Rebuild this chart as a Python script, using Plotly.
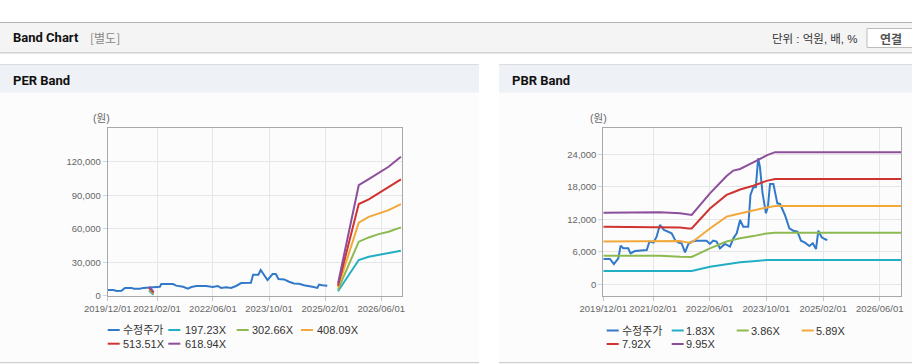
import plotly.graph_objects as go

W, H = 912, 364

# ---------------- data ----------------
tick_dates = ["2019-12-01", "2021-02-01", "2022-06-01", "2023-10-01", "2025-02-01", "2026-06-01"]
tick_text = ["2019/12/01", "2021/02/01", "2022/06/01", "2023/10/01", "2025/02/01", "2026/06/01"]

# PER band chart
per_price_dates = ["2019-12-01", "2020-01-19", "2020-02-17", "2020-03-30", "2020-04-28", "2020-06-25",
                   "2020-07-15", "2020-09-06", "2020-10-04", "2021-01-14", "2021-02-26", "2021-03-10",
                   "2021-06-20", "2021-07-18", "2021-09-15", "2021-10-27", "2021-11-26", "2022-01-08",
                   "2022-04-03", "2022-05-31", "2022-07-13", "2022-08-11", "2022-09-24", "2022-11-06",
                   "2022-12-19", "2023-02-01", "2023-04-27", "2023-05-16", "2023-07-01", "2023-07-21",
                   "2023-08-11", "2023-09-18", "2023-11-01", "2023-11-29", "2023-12-22", "2024-02-10",
                   "2024-03-23", "2024-05-05", "2024-06-18", "2024-07-31", "2024-10-11", "2024-11-24",
                   "2024-12-08", "2025-01-06", "2025-02-18"]
per_price = [5000, 5000, 4200, 4500, 7000, 7000, 6300, 6300, 7000, 7500, 8000, 10400,
             10400, 9000, 8000, 6300, 7800, 8700, 8700, 7800, 8700, 7000, 7500, 6900,
             8700, 11300, 11600, 18800, 18800, 23000, 20000, 14000, 19400, 19400, 14900, 14600,
             12500, 11000, 10700, 9300, 8000, 7000, 10000, 9300, 9000]

per_band_dates = ["2020-11-25", "2021-01-02", "2023-01-01", "2025-05-22", "2025-11-18",
                  "2026-02-13", "2026-05-09", "2026-08-04", "2026-11-19"]
per_band_1 = [4500, 900, None, 4000, 32000, 34900, 36400, 37900, 40300]      # 197.23X
per_band_2 = [5500, 1500, None, 5500, 48400, 52200, 55200, 57300, 61200]     # 302.66X
per_band_3 = [6500, 2200, None, 7500, 65400, 70700, 73700, 76700, 82100]     # 408.09X
per_band_4 = [7300, 2800, None, 9000, 82100, 86300, 91600, 97000, 104200]    # 513.51X
per_band_5 = [8000, 3500, None, 11000, 99000, 104500, 110000, 115500, 124500]  # 618.94X
per_names = ["수정주가", "197.23X", "302.66X", "408.09X", "513.51X", "618.94X"]

# PBR band chart
pbr_price_dates = ["2019-12-01", "2020-01-27", "2020-03-01", "2020-04-08", "2020-04-28", "2020-05-20",
                   "2020-07-02", "2020-07-22", "2020-08-29", "2020-10-26", "2020-12-08", "2020-12-31",
                   "2021-02-04", "2021-03-03", "2021-03-31", "2021-05-05", "2021-06-11", "2021-07-10",
                   "2021-08-08", "2021-09-06", "2021-10-04", "2021-11-02", "2021-12-01", "2021-12-29",
                   "2022-02-11", "2022-05-06", "2022-06-04", "2022-07-02", "2022-07-31", "2022-08-29",
                   "2022-10-11", "2022-11-23", "2022-12-22", "2023-01-20", "2023-02-18", "2023-03-17",
                   "2023-04-29", "2023-05-18", "2023-06-11", "2023-07-03", "2023-07-23", "2023-08-07",
                   "2023-08-30", "2023-09-28", "2023-10-15", "2023-11-02", "2023-12-01", "2024-01-04",
                   "2024-01-27", "2024-03-09", "2024-04-16", "2024-05-20", "2024-06-24", "2024-07-25",
                   "2024-08-28", "2024-10-05", "2024-11-03", "2024-12-01", "2024-12-21", "2025-01-19",
                   "2025-02-17", "2025-03-08"]
pbr_price = [4680, 4680, 3750, 4800, 7140, 6650, 6650, 5720, 6150, 6220, 6340, 7880,
             7690, 8800, 10950, 10030, 9600, 9420, 8190, 7690, 7570, 5910, 7450, 7880,
             8060, 8060, 7450, 8060, 7880, 6650, 7450, 6950, 8490, 9420, 11880, 10650,
             10650, 16490, 17900, 17900, 23260, 21720, 16800, 13110, 14340, 18520, 18520, 14950,
             14830, 12800, 10340, 9900, 9720, 8060, 7690, 7080, 7570, 6520, 9910, 8680,
             8310, 8180]

pbr_band_dates = ["2019-12-01", "2021-03-31", "2021-09-20", "2021-12-01", "2021-12-29", "2022-06-04",
                  "2022-10-25", "2022-12-22", "2023-02-18", "2023-06-11", "2023-10-04", "2023-12-15",
                  "2026-12-01"]
pbr_band_1 = [2460, 2460, 2460, 2460, 2460, 3260, 3750, 3900, 4060, 4250, 4490, 4490, 4490]          # 1.83X
pbr_band_2 = [5290, 5290, 5100, 5050, 5050, 6650, 7900, 8200, 8500, 8900, 9400, 9540, 9540]          # 3.86X
pbr_band_3 = [7900, 8000, 8000, 7700, 7700, 10300, 12500, 12800, 13100, 13700, 14200, 14460, 14460]  # 5.89X
pbr_band_4 = [10650, 10600, 10500, 10300, 10300, 14000, 16500, 17000, 17500, 18200, 19100, 19450, 19450]  # 7.92X
pbr_band_5 = [13200, 13300, 13100, 12900, 12800, 16800, 20000, 21000, 21300, 22500, 23800, 24400, 24400]  # 9.95X
pbr_names = ["수정주가", "1.83X", "3.86X", "5.89X", "7.92X", "9.95X"]

colors = ["#3279c9", "#22afc3", "#8cba51", "#f2a83b", "#cf3430", "#8d4f9c"]

# ---------------- figure ----------------
fig = go.Figure()

def add_series(xp, yp, xb, bands, xa, ya):
    fig.add_trace(go.Scatter(x=xp, y=yp, mode="lines", line=dict(color=colors[0], width=2),
                             xaxis=xa, yaxis=ya, showlegend=False, connectgaps=False))
    for i, b in enumerate(bands):
        fig.add_trace(go.Scatter(x=xb, y=b, mode="lines", line=dict(color=colors[i + 1], width=2),
                                 xaxis=xa, yaxis=ya, showlegend=False, connectgaps=False))

add_series(per_price_dates, per_price, per_band_dates,
           [per_band_1, per_band_2, per_band_3, per_band_4, per_band_5], "x", "y")
add_series(pbr_price_dates, pbr_price, pbr_band_dates,
           [pbr_band_1, pbr_band_2, pbr_band_3, pbr_band_4, pbr_band_5], "x2", "y2")

def px(x):
    return x / W

def py(y):
    return 1 - y / H

FONT = "Liberation Sans, Noto Sans CJK KR, sans-serif"
tickfont = dict(family=FONT, size=9.5, color="#666666")

xcommon = dict(type="date", range=["2019-12-01", "2026-12-01"], tickvals=tick_dates, ticktext=tick_text,
               tickangle=0, automargin=False,
               showgrid=True, gridcolor="#e6e6e6", gridwidth=1, showline=True, linecolor="#a8a8a8",
               linewidth=1, mirror=True, ticks="outside", ticklen=4, tickcolor="#c8c8c8",
               tickfont=tickfont, zeroline=False, fixedrange=True)
ycommon = dict(showgrid=True, gridcolor="#e6e6e6", gridwidth=1, showline=True, linecolor="#a8a8a8",
               linewidth=1, mirror=True, ticks="outside", ticklen=4, tickcolor="#ccd6eb", automargin=False,
               tickfont=tickfont, tickformat=",d", zeroline=False, fixedrange=True)

fig.update_layout(
    width=W, height=H, autosize=False,
    margin=dict(l=0, r=0, t=0, b=0, pad=0, autoexpand=False),
    paper_bgcolor="#ffffff", plot_bgcolor="#ffffff",
    font=dict(family=FONT, color="#333333"),
    xaxis=dict(domain=[px(107.7), px(402.3)], anchor="y", **xcommon),
    yaxis=dict(domain=[py(295.7), py(128.3)], anchor="x", range=[0, 150000],
               tickvals=[0, 30000, 60000, 90000, 120000], **ycommon),
    xaxis2=dict(domain=[px(603.3), px(901)], anchor="y2", **xcommon),
    yaxis2=dict(domain=[py(295.7), py(128.3)], anchor="x2", range=[-2100, 28800],
                tickvals=[0, 6000, 12000, 18000, 24000], **ycommon),
    showlegend=False,
)

shapes = []

def rect(x0, y0, x1, y1, fill, line=None, lw=0):
    shapes.append(dict(type="rect", xref="paper", yref="paper", x0=px(x0), x1=px(x1), y0=py(y1), y1=py(y0),
                       fillcolor=fill, line=dict(color=line or fill, width=lw), layer="below"))

def hline(x0, x1, y, color, w=1):
    shapes.append(dict(type="line", xref="paper", yref="paper", x0=px(x0), x1=px(x1), y0=py(y), y1=py(y),
                       line=dict(color=color, width=w), layer="below"))

# top header bar
rect(0, 23, W, 52, "#f4f4f4")
hline(0, W, 22.5, "#b4b4b4")
hline(0, W, 52.7, "#d2d2d2", 1.5)
# button
shapes.append(dict(type="rect", xref="paper", yref="paper", x0=px(867), x1=px(925), y0=py(47.5), y1=py(28.5),
                   fillcolor="#ffffff", line=dict(color="#bcbcbc", width=1), layer="above"))
# panels
for (a, b) in [(0, 479), (499, W)]:
    rect(a, 65, b, 92.7, "#eef1f6")
    rect(a, 92.7, b, 362, "#fcfcfc")
    hline(a, b, 64.5, "#dcdcdc")
    hline(a, b, 362.7, "#cfcfcf", 1.2)

annotations = []

def text(x, y, s, size=11, color="#333333", bold=False, anchor="left", family=FONT):
    annotations.append(dict(xref="paper", yref="paper", x=px(x), y=py(y), text=("<b>%s</b>" % s) if bold else s,
                            showarrow=False, xanchor=anchor, yanchor="middle",
                            font=dict(family=family, size=size, color=color)))

HEAD = "Roboto, Noto Sans CJK KR, sans-serif"
text(11, 38, "Band Chart", 13, "#111111", True, family=HEAD)
text(87.5, 38, "[별도]", 12, "#888888", family="Noto Sans CJK KR, sans-serif")
text(860, 38.5, "단위 : 억원, 배, %", 11.5, "#333333", anchor="right")
text(890.5, 38.5, "연결", 12, "#555555", True, anchor="center", family="Noto Sans CJK KR, sans-serif")
text(11, 80, "PER Band", 13, "#111111", True, family=HEAD)
text(510, 80, "PBR Band", 13, "#111111", True, family=HEAD)
text(101.7, 118, "(원)", 10.5, "#666666", anchor="center")
text(598, 118, "(원)", 10.5, "#666666", anchor="center")

# manual legends
def legend(items, names):
    for (sx, tx, y), name, c in zip(items, names, colors):
        shapes.append(dict(type="line", xref="paper", yref="paper", x0=px(sx), x1=px(sx + 12), y0=py(y), y1=py(y),
                           line=dict(color=c, width=2)))
        text(tx, y, name, 11, "#333333")

per_leg = [(107.7, 120.5, 330), (168.3, 182.5, 330), (236.7, 250, 330), (301, 314.5, 330),
           (107.7, 120.5, 343.7), (168.3, 182.5, 343.7)]
pbr_leg = [(606.7, 619.5, 330.5), (671.7, 683.5, 330.5), (736.7, 748.5, 330.5), (801.7, 813.5, 330.5),
           (606.7, 619.5, 344), (671.7, 683.5, 344)]
legend(per_leg, per_names)
legend(pbr_leg, pbr_names)

fig.update_layout(shapes=shapes, annotations=annotations)
fig.write_html("out.html", config={"displayModeBar": False},
               post_script="document.body.style.margin='0px';document.body.style.padding='0px';")
